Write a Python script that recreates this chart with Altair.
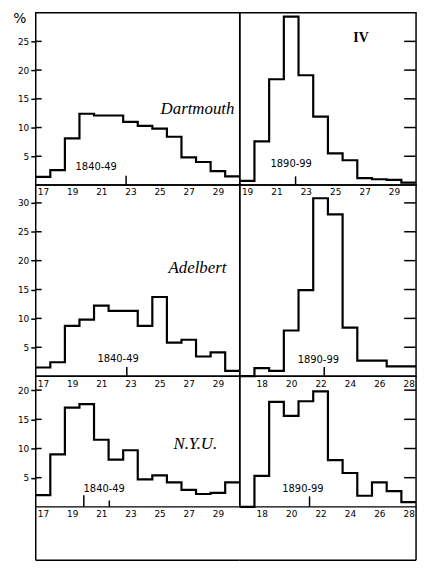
import altair as alt
import pandas as pd

# ---------------- data (percent of graduates by age) ----------------
ages_1840 = list(range(17, 31))
ages_dart_1890 = list(range(19, 31))
ages_1890 = list(range(17, 29))

dartmouth_1840 = [1.4, 2.6, 8.1, 12.4, 12.1, 12.1, 11.0, 10.3, 9.8, 8.4, 4.8, 4.0, 2.4, 1.5]
dartmouth_1890 = [0.7, 7.6, 18.4, 29.3, 19.1, 11.9, 5.5, 4.3, 1.2, 1.0, 0.9, 0.4]
adelbert_1840 = [1.5, 2.4, 8.7, 9.8, 12.2, 11.3, 11.3, 8.7, 13.7, 5.8, 6.3, 3.4, 4.1, 0.9]
adelbert_1890 = [0.0, 1.4, 0.9, 7.9, 14.9, 30.8, 28.0, 8.4, 2.7, 2.7, 1.7, 1.7]
nyu_1840 = [2.0, 9.0, 17.0, 17.6, 11.5, 8.1, 9.7, 4.7, 5.4, 4.2, 2.9, 2.2, 2.4, 4.2]
nyu_1890 = [0.0, 5.3, 18.0, 15.6, 18.1, 19.8, 8.0, 5.8, 1.9, 4.2, 2.7, 0.8]

x_labels_odd = [17, 19, 21, 23, 25, 27, 29]
x_labels_dart_1890 = [19, 21, 23, 25, 27, 29]
x_labels_even = [18, 20, 22, 24, 26, 28]

y_ticks_dart = [5, 10, 15, 20, 25]
y_ticks_adel = [5, 10, 15, 20, 25, 30]
y_ticks_nyu = [5, 10, 15, 20]

institutions = ["Dartmouth", "Adelbert", "N.Y.U."]
periods = ["1840-49", "1890-99"]
unit_label = "%"

# median marks (age, top of little tick in %)
med_dart_1840 = ([22.7], [1.6])
med_dart_1890 = ([22.3], [1.5])
med_adel_1840 = ([22.75], [1.6])
med_adel_1890 = ([22.25], [1.6])
med_nyu_1840 = ([19.8, 21.55], [2.0, 1.1])
med_nyu_1890 = ([21.25], [1.8])

# label anchor positions (age, %)
period_pos = {
    "dart_1840": (20.65, 3.1), "dart_1890": (22.0, 3.7),
    "adel_1840": (22.15, 3.0), "adel_1890": (21.85, 2.8),
    "nyu_1840": (21.2, 3.0), "nyu_1890": (20.8, 3.1),
}
inst_pos = {"Dartmouth": (27.6, 13.3), "Adelbert": (27.6, 18.7), "N.Y.U.": (27.45, 10.7)}
roman_pos = (26.75, 25.5)

LEFT_W, RIGHT_W = 206, 178
ROW_H = [174, 193, 132]
Y_MAX = [30, 33.1, 22.4]
FOOT_H = 54

LABEL_FONT = "DejaVu Sans"
HAND_FONT = "Liberation Serif"


def panel(ages, vals, xdom, ydom, w, h, xlabels, yticks, left, period, ppos,
          med, inst=None, ipos=None, roman=False, show_pct=False):
    xs = alt.Scale(domain=xdom, nice=False, zero=False)
    ys = alt.Scale(domain=ydom, nice=False, zero=False)
    xaxis = alt.Axis(values=xlabels, format="d", title=None, domain=False, grid=False,
                     ticks=False, labelPadding=3, labelFlush=False, labelOverlap=False,
                     labelFontSize=9, labelFont=LABEL_FONT, labelColor="black")
    if left:
        yaxis = alt.Axis(values=yticks, format="d", grid=False, domain=False, tickSize=5,
                         tickWidth=1.5, tickColor="black", labelPadding=2, labelFontSize=9,
                         labelFont=LABEL_FONT, labelColor="black", title=None)
    else:
        yaxis = None

    def X(f):
        return alt.X(f, scale=xs, axis=xaxis)

    def Y(f):
        if yaxis is None:
            return alt.Y(f, scale=ys, axis=None)
        return alt.Y(f, scale=ys, axis=yaxis)

    line_df = pd.DataFrame({
        "x": [a - 0.5 for a in ages] + [ages[-1] + 0.5],
        "y": list(vals) + [vals[-1]],
    })
    line = alt.Chart(line_df).mark_line(
        interpolate="step-after", color="black", strokeWidth=2.2
    ).encode(x=X("x:Q"), y=Y("y:Q"))

    x0, x1 = (0, 6) if left else (w - 12, w)
    ticks = alt.Chart(pd.DataFrame({"y": yticks})).mark_rule(
        color="black", strokeWidth=1.5
    ).encode(y=Y("y:Q"), x=alt.value(x0), x2=alt.value(x1))

    med_df = pd.DataFrame({"x": med[0], "y": med[1], "y2": [0.0] * len(med[0])})
    meds = alt.Chart(med_df).mark_rule(color="black", strokeWidth=1.5).encode(
        x=X("x:Q"), y=Y("y:Q"), y2="y2:Q")

    per_df = pd.DataFrame({"x": [ppos[0]], "y": [ppos[1]], "t": [period]})
    per = alt.Chart(per_df).mark_text(
        font=LABEL_FONT, fontSize=10, color="black", baseline="middle"
    ).encode(x=X("x:Q"), y=Y("y:Q"), text="t:N")

    layers = [line, ticks, meds, per]
    if inst is not None:
        inst_df = pd.DataFrame({"x": [ipos[0]], "y": [ipos[1]], "t": [inst]})
        layers.append(alt.Chart(inst_df).mark_text(
            font=HAND_FONT, fontSize=17, fontStyle="italic", color="black", baseline="middle"
        ).encode(x=X("x:Q"), y=Y("y:Q"), text="t:N"))
    if roman:
        r_df = pd.DataFrame({"x": [roman_pos[0]], "y": [roman_pos[1]], "t": ["IV"]})
        layers.append(alt.Chart(r_df).mark_text(
            font=HAND_FONT, fontSize=14, fontWeight="bold", color="black", baseline="middle"
        ).encode(x=X("x:Q"), y=Y("y:Q"), text="t:N"))
    if show_pct:
        pct_df = pd.DataFrame({"t": [unit_label]})
        layers.append(alt.Chart(pct_df).mark_text(
            font=LABEL_FONT, fontSize=14, color="black", baseline="middle", align="center"
        ).encode(x=alt.value(-16), y=alt.value(6), text="t:N"))
    return alt.layer(*layers).properties(width=w, height=h)


def foot(w, h, left_side):
    # blank strip under the last row, framed on the outside only
    edge = 0 if left_side else w
    base = alt.Chart(pd.DataFrame({"a": [0]}))
    side = base.mark_rule(color="black", strokeWidth=1.5).encode(
        x=alt.value(edge), y=alt.value(0), y2=alt.value(h))
    bottom = base.mark_rule(color="black", strokeWidth=1.5).encode(
        x=alt.value(0), x2=alt.value(w), y=alt.value(h))
    return alt.layer(side, bottom).properties(
        width=w, height=h, view=alt.ViewBackground(stroke="transparent"))


cells = [
    panel(ages_1840, dartmouth_1840, [16.5, 30.5], [0, Y_MAX[0]], LEFT_W, ROW_H[0],
          x_labels_odd, y_ticks_dart, True, periods[0], period_pos["dart_1840"],
          med_dart_1840, inst=institutions[0], ipos=inst_pos["Dartmouth"], show_pct=True),
    panel(ages_dart_1890, dartmouth_1890, [18.5, 30.5], [0, Y_MAX[0]], RIGHT_W, ROW_H[0],
          x_labels_dart_1890, y_ticks_dart, False, periods[1], period_pos["dart_1890"],
          med_dart_1890, roman=True),
    panel(ages_1840, adelbert_1840, [16.5, 30.5], [0, Y_MAX[1]], LEFT_W, ROW_H[1],
          x_labels_odd, y_ticks_adel, True, periods[0], period_pos["adel_1840"],
          med_adel_1840, inst=institutions[1], ipos=inst_pos["Adelbert"]),
    panel(ages_1890, adelbert_1890, [16.5, 28.5], [0, Y_MAX[1]], RIGHT_W, ROW_H[1],
          x_labels_even, y_ticks_adel, False, periods[1], period_pos["adel_1890"],
          med_adel_1890),
    panel(ages_1840, nyu_1840, [16.5, 30.5], [0, Y_MAX[2]], LEFT_W, ROW_H[2],
          x_labels_odd, y_ticks_nyu, True, periods[0], period_pos["nyu_1840"],
          med_nyu_1840, inst=institutions[2], ipos=inst_pos["N.Y.U."]),
    panel(ages_1890, nyu_1890, [16.5, 28.5], [0, Y_MAX[2]], RIGHT_W, ROW_H[2],
          x_labels_even, y_ticks_nyu, False, periods[1], period_pos["nyu_1890"],
          med_nyu_1890),
    foot(LEFT_W, FOOT_H, True),
    foot(RIGHT_W, FOOT_H, False),
]

chart = alt.concat(*cells, columns=2, spacing=0, bounds="flush").configure_view(
    stroke="black", strokeWidth=1.5
).properties(
    padding={"left": 4, "top": 0, "right": 0, "bottom": 0},
    background="white",
)

chart.save("out.html", embed_options={"renderer": "svg", "actions": False})
